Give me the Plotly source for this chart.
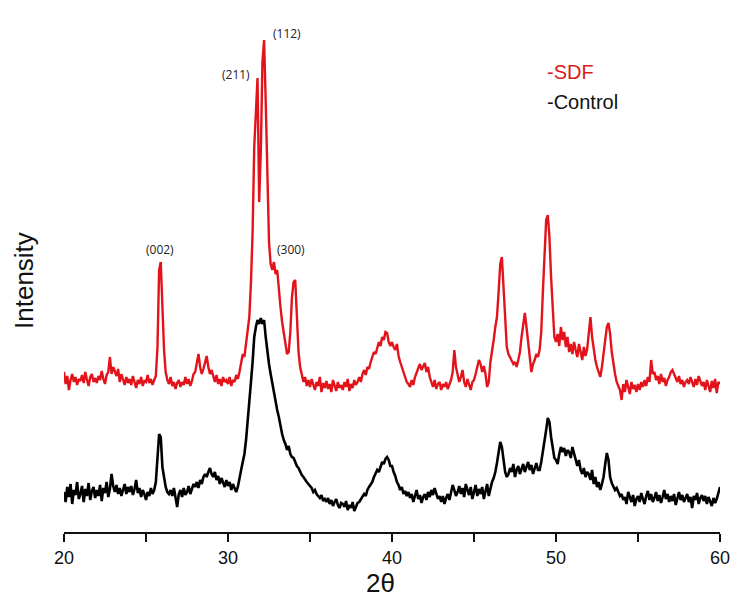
import plotly.graph_objects as go

# 2-theta grid: 20.0 .. 60.0 in steps of 0.1 degree
two_theta_start = 20.0
two_theta_step = 0.1

# Intensity (a.u.), one row per degree (x.0 .. x.9)
sdf = [
    160,148,156,142,152,158,150,155,147,153,   # 20
    151,157,149,160,152,146,155,158,150,154,   # 21
    149,156,152,161,153,148,157,160,175,158,   # 22
    165,160,156,163,150,158,152,147,155,149,   # 23
    153,147,156,150,144,152,148,155,146,151,   # 24
    150,157,149,153,147,152,156,185,262,270,   # 25
    215,182,160,152,148,155,146,150,143,149,   # 26
    152,145,150,147,155,148,153,146,151,158,   # 27
    160,168,178,165,158,163,170,176,165,158,   # 28
    162,155,150,157,148,153,146,155,150,152,   # 29
    148,155,146,152,150,157,153,160,168,178,   # 30
    175,188,200,215,250,300,385,420,454,330,   # 31
    380,470,492,430,360,290,268,262,270,258,   # 32
    262,240,225,210,200,188,178,180,200,235,   # 33
    250,252,212,180,165,158,150,155,146,152,   # 34
    145,153,148,142,150,146,155,140,149,144,   # 35
    151,143,148,140,152,146,141,150,144,147,   # 36
    142,150,145,153,141,148,144,152,147,150,   # 37
    155,150,158,162,157,165,163,170,175,180,   # 38
    178,185,190,186,195,192,200,199,190,186,   # 39
    190,185,182,188,176,170,165,160,156,150,   # 40
    148,145,152,147,155,160,165,168,162,166,   # 41
    169,160,165,155,150,145,152,143,148,150,   # 42
    142,148,145,150,143,147,152,160,182,165,   # 43
    158,150,155,162,150,145,153,148,142,150,   # 44
    152,158,165,172,168,160,166,158,145,150,   # 45
    170,180,192,205,215,240,268,275,245,210,   # 46
    185,178,175,172,168,170,165,172,180,195,   # 47
    210,219,205,190,175,160,168,172,178,175,   # 48
    182,200,240,285,312,317,295,255,220,195,   # 49
    190,198,186,205,192,200,185,195,180,188,   # 50
    178,190,182,175,188,180,172,185,176,183,   # 51
    200,215,195,182,172,165,160,155,165,180,   # 52
    195,205,209,198,180,168,158,150,145,142,   # 53
    132,148,140,152,145,138,150,143,147,140,   # 54
    148,142,150,145,152,146,155,150,172,158,   # 55
    160,152,156,148,158,150,154,146,152,155,   # 56
    160,162,158,153,150,156,148,152,145,150,   # 57
    152,148,155,150,145,153,147,156,151,146,   # 58
    150,142,152,147,140,151,144,153,139,150,   # 59
    148,                                       # 60
]

control = [
    40,30,45,35,48,28,42,37,50,33,   # 20
    38,46,30,43,36,49,32,41,45,34,   # 21
    42,36,47,31,44,39,50,35,43,58,   # 22
    46,40,47,38,44,36,42,48,38,45,   # 23
    40,46,37,43,52,39,44,35,42,38,   # 24
    32,40,36,44,38,42,50,70,98,95,   # 25
    65,55,45,40,38,42,36,44,35,25,   # 26
    38,42,35,44,37,40,46,38,43,48,   # 27
    45,50,44,52,48,55,58,55,60,64,   # 28
    58,55,60,52,56,48,54,50,45,52,   # 29
    46,50,42,48,44,40,45,55,62,70,   # 30
    78,92,109,130,150,170,195,205,212,208,   # 31
    214,208,212,195,180,168,158,148,138,130, # 32
    122,115,105,98,92,88,82,86,78,75,        # 33
    74,70,66,64,60,57,55,52,50,48,   # 34
    46,44,40,42,38,36,34,37,31,33,   # 35
    30,34,28,32,26,30,33,27,24,29,   # 36
    28,25,31,22,27,24,30,21,26,29,   # 37
    30,33,35,38,36,42,45,48,50,55,   # 38
    58,62,60,66,70,68,73,75,72,66,   # 39
    66,60,56,50,47,42,45,38,41,36,   # 40
    40,34,38,30,36,42,33,37,29,35,   # 41
    38,32,40,35,42,37,44,39,33,36,   # 42
    30,36,28,34,38,32,40,47,42,36,   # 43
    40,46,38,44,35,48,42,37,45,33,   # 44
    40,47,36,43,38,45,33,42,48,36,   # 45
    45,50,54,60,69,78,90,85,70,60,   # 46
    55,58,64,60,68,55,62,66,58,64,   # 47
    68,60,65,70,62,67,58,64,69,62,   # 48
    62,70,80,89,102,114,110,95,82,74,   # 49
    72,68,78,85,80,84,76,82,80,74,   # 50
    85,78,70,66,72,62,58,64,55,60,   # 51
    58,52,62,48,55,45,50,42,48,55,   # 52
    68,79,72,55,49,46,42,44,40,36,   # 53
    38,32,35,28,40,34,30,37,26,33,   # 54
    36,30,39,33,28,36,41,32,38,30,   # 55
    34,40,31,37,29,35,42,33,38,30,   # 56
    36,31,38,27,35,40,32,37,30,34,   # 57
    38,30,35,24,36,32,39,28,34,37,   # 58
    31,36,28,35,30,26,34,29,33,38,   # 59
    45,                              # 60
]

tick_vals = [20, 25, 30, 35, 40, 45, 50, 55, 60]
tick_text = ["20", "", "30", "", "40", "", "50", "", "60"]

peak_labels = ["(112)", "(211)", "(002)", "(300)"]
peak_label_x = [33.6, 30.5, 25.85, 33.85]
peak_label_y = [499, 458, 283, 283]

legend_names = ["-SDF", "-Control"]
legend_colors = ["#d91c1c", "#111111"]

two_theta = [round(two_theta_start + i * two_theta_step, 1) for i in range(len(sdf))]

fig = go.Figure()
fig.add_trace(go.Scatter(x=two_theta, y=control, mode="lines",
                         line=dict(color="#000000", width=2.6), name="Control"))
fig.add_trace(go.Scatter(x=two_theta, y=sdf, mode="lines",
                         line=dict(color="#e3131b", width=2.4), name="SDF"))

annotations = []
for t, x, y in zip(peak_labels, peak_label_x, peak_label_y):
    annotations.append(dict(x=x, y=y, xref="x", yref="y", text=t, showarrow=False,
                            font=dict(family="Open Sans", size=12, color="#222222")))

legend_y = [460, 430]
for name, col, y in zip(legend_names, legend_colors, legend_y):
    annotations.append(dict(x=49.3, y=y, xref="x", yref="y", text=name, showarrow=False,
                            xanchor="left", font=dict(family="Liberation Sans, Arial", size=20, color=col)))

annotations.append(dict(x=0.482, y=-0.102, xref="paper", yref="paper", text="2θ",
                        xanchor="center", yanchor="middle", borderpad=0,
                        showarrow=False, font=dict(family="Liberation Sans, Arial", size=26, color="#111111")))
annotations.append(dict(x=-0.061, y=0.504, xref="paper", yref="paper", text="Intensity",
                        xanchor="center", yanchor="middle",
                        textangle=-90, showarrow=False,
                        font=dict(family="Liberation Sans, Arial", size=26, color="#111111")))

# the page body has an 8px default margin, so the figure is offset by 8px
fig.update_layout(
    width=739, height=594,
    margin=dict(l=56, r=27, t=24, b=70),
    paper_bgcolor="white", plot_bgcolor="white",
    showlegend=False,
    annotations=annotations,
    xaxis=dict(range=[20, 60], tickvals=tick_vals, ticktext=tick_text,
               showline=True, linecolor="#111111", linewidth=2,
               ticks="outside", ticklen=8, tickwidth=2, tickcolor="#111111",
               showgrid=False, zeroline=False,
               tickfont=dict(family="Liberation Sans, Arial", size=18, color="#111111")),
    yaxis=dict(range=[0, 500], visible=False, showgrid=False, zeroline=False),
)

fig.write_html("out.html")
